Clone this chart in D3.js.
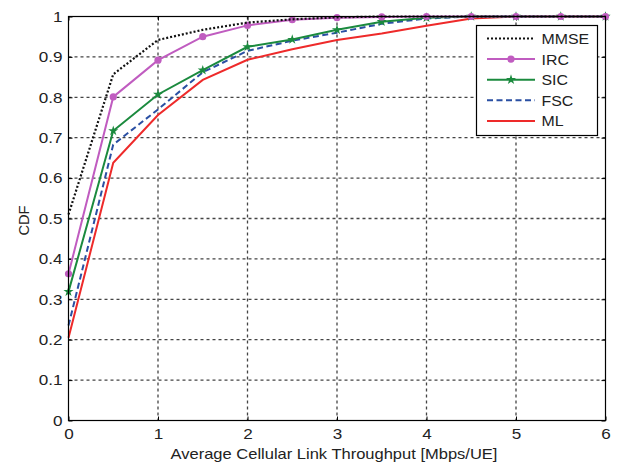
<!DOCTYPE html>
<html>
<head>
<meta charset="utf-8">
<script src="https://cdn.jsdelivr.net/npm/d3@7/dist/d3.min.js"></script>
<style>
  html, body { margin: 0; padding: 0; background: #fff; }
  svg { display: block; font-family: "Liberation Sans", Arial, sans-serif; }
</style>
</head>
<body>
<svg id="chart" width="617" height="464"></svg>
<script>
// Throughput sample points (Mbps/UE)
const throughput = [0, 0.5, 1, 1.5, 2, 2.5, 3, 3.5, 4, 4.5, 5, 5.5, 6];

// CDF values per receiver type
const mmse = [0.51, 0.857, 0.942, 0.967, 0.985, 0.993, 0.998, 1.0, 1.0, 1.0, 1.0, 1.0, 1.0];
const irc  = [0.363, 0.801, 0.892, 0.950, 0.978, 0.992, 0.997, 0.999, 1.0, 1.0, 1.0, 1.0, 1.0];
const sic  = [0.319, 0.717, 0.807, 0.867, 0.925, 0.943, 0.967, 0.987, 0.997, 1.0, 1.0, 1.0, 1.0];
const fsc  = [0.235, 0.683, 0.770, 0.862, 0.915, 0.940, 0.960, 0.982, 0.995, 1.0, 1.0, 1.0, 1.0];
const ml   = [0.205, 0.638, 0.756, 0.843, 0.893, 0.919, 0.942, 0.958, 0.977, 0.995, 1.0, 1.0, 1.0];

const xTicks = [0, 1, 2, 3, 4, 5, 6];
const yTicks = [0, 0.1, 0.2, 0.3, 0.4, 0.5, 0.6, 0.7, 0.8, 0.9, 1];

const seriesNames = ["MMSE", "IRC", "SIC", "FSC", "ML"];

const styles = {
  MMSE: { color: "#111111", dash: "2,2", width: 2.2, marker: null },
  IRC:  { color: "#c05cc0", dash: null, width: 2, marker: "circle" },
  SIC:  { color: "#1b8a3e", dash: null, width: 2, marker: "star" },
  FSC:  { color: "#2a4fa3", dash: "6,3.5", width: 2, marker: null },
  ML:   { color: "#ee2a2a", dash: null, width: 2, marker: null }
};
const valuesByName = { MMSE: mmse, IRC: irc, SIC: sic, FSC: fsc, ML: ml };

const svg = d3.select("#chart");
const plotLeft = 68.5, plotRight = 605.5, plotTop = 16.5, plotBottom = 420.5;
const textStretch = 1.18;   // wide-set lettering
const textColor = "#222";

const x = d3.scaleLinear().domain([0, 6]).range([plotLeft, plotRight]);
const y = d3.scaleLinear().domain([0, 1]).range([plotBottom, plotTop]);

// Grid
const grid = svg.append("g");
grid.selectAll("line.gx").data(xTicks.slice(1, -1)).join("line")
  .attr("x1", d => x(d)).attr("x2", d => x(d))
  .attr("y1", plotTop).attr("y2", plotBottom)
  .attr("stroke", "#444").attr("stroke-width", 1.3).attr("stroke-dasharray", "3,3");
grid.selectAll("line.gy").data(yTicks.slice(1, -1)).join("line")
  .attr("y1", d => y(d)).attr("y2", d => y(d))
  .attr("x1", plotLeft).attr("x2", plotRight)
  .attr("stroke", "#444").attr("stroke-width", 1.3).attr("stroke-dasharray", "3,3");

// Axes
const xAxis = d3.axisBottom(x).tickValues(xTicks).tickSize(-4).tickFormat(d3.format("d"));
const yAxis = d3.axisLeft(y).tickValues(yTicks).tickSize(-4)
  .tickFormat(d => d === 0 || d === 1 ? d3.format("d")(d) : d3.format(".1f")(d));

const gx = svg.append("g").attr("transform", `translate(0,${plotBottom})`).call(xAxis);
const gy = svg.append("g").attr("transform", `translate(${plotLeft},0)`).call(yAxis);
[gx, gy].forEach(g => {
  g.select(".domain").remove();
  g.selectAll("line").attr("stroke", "#000");
  g.selectAll("text").attr("font-size", 14.5).attr("fill", textColor)
    .attr("font-family", "'Liberation Sans', Arial, sans-serif");
});
gx.selectAll("text").attr("y", 0).attr("dy", null)
  .attr("transform", `translate(0,18.5) scale(${textStretch},1)`);
gy.selectAll("text").attr("x", 0).attr("dy", "0.33em")
  .attr("transform", `translate(-6,0) scale(${textStretch},1)`);

// Top and right ticks
const gxTop = svg.append("g").attr("transform", `translate(0,${plotTop})`)
  .call(d3.axisTop(x).tickValues(xTicks).tickSize(-4).tickFormat(""));
const gyRight = svg.append("g").attr("transform", `translate(${plotRight},0)`)
  .call(d3.axisRight(y).tickValues(yTicks).tickSize(-4).tickFormat(""));
[gxTop, gyRight].forEach(g => { g.select(".domain").remove(); g.selectAll("line").attr("stroke", "#000"); });

// Series lines
const line = d3.line().x((d, i) => x(throughput[i])).y(d => y(d));
const drawOrder = ["ML", "FSC", "SIC", "IRC", "MMSE"];
drawOrder.forEach(name => {
  const s = styles[name];
  svg.append("path").datum(valuesByName[name])
    .attr("d", line).attr("fill", "none")
    .attr("stroke", s.color).attr("stroke-width", s.width)
    .attr("stroke-dasharray", s.dash);
  if (s.marker === "circle") {
    svg.append("g").selectAll("circle").data(valuesByName[name]).join("circle")
      .attr("cx", (d, i) => x(throughput[i])).attr("cy", d => y(d))
      .attr("r", 3.6).attr("fill", s.color);
  } else if (s.marker === "star") {
    const star = d3.symbol().type(d3.symbolStar).size(32);
    svg.append("g").selectAll("path").data(valuesByName[name]).join("path")
      .attr("d", star)
      .attr("transform", (d, i) => `translate(${x(throughput[i])},${y(d)})`)
      .attr("fill", s.color);
  }
});

// Frame
svg.append("rect").attr("x", plotLeft).attr("y", plotTop)
  .attr("width", plotRight - plotLeft).attr("height", plotBottom - plotTop)
  .attr("fill", "none").attr("stroke", "#000").attr("stroke-width", 1.2);

// Axis titles
svg.append("text")
  .attr("transform", `translate(${(plotLeft + plotRight) / 2 - 3},459) scale(${textStretch},1)`)
  .attr("text-anchor", "middle").attr("font-size", 14).attr("fill", textColor)
  .text("Average Cellular Link Throughput [Mbps/UE]");
svg.append("text")
  .attr("transform", `translate(28.5,${(plotTop + plotBottom) / 2 + 2}) rotate(-90) scale(1.05,1.05)`)
  .attr("text-anchor", "middle").attr("font-size", 14).attr("fill", textColor)
  .text("CDF");

// Legend
const lg = svg.append("g");
lg.append("rect").attr("x", 476.5).attr("y", 25.5).attr("width", 121).attr("height", 110)
  .attr("fill", "#fff").attr("stroke", "#000").attr("stroke-width", 1.2);
seriesNames.forEach((name, i) => {
  const s = styles[name];
  const ly = 38.5 + i * 20.6;
  lg.append("line").attr("x1", 487).attr("x2", 535).attr("y1", ly).attr("y2", ly)
    .attr("stroke", s.color).attr("stroke-width", s.width).attr("stroke-dasharray", s.dash);
  if (s.marker === "circle") {
    lg.append("circle").attr("cx", 511).attr("cy", ly).attr("r", 3.6).attr("fill", s.color);
  } else if (s.marker === "star") {
    lg.append("path").attr("d", d3.symbol().type(d3.symbolStar).size(32))
      .attr("transform", `translate(511,${ly})`).attr("fill", s.color);
  }
  lg.append("text").attr("transform", `translate(541.5,${ly}) scale(1.06,1)`)
    .attr("dy", "0.36em").attr("font-size", 15).attr("fill", textColor).text(name);
});
</script>
</body>
</html>
